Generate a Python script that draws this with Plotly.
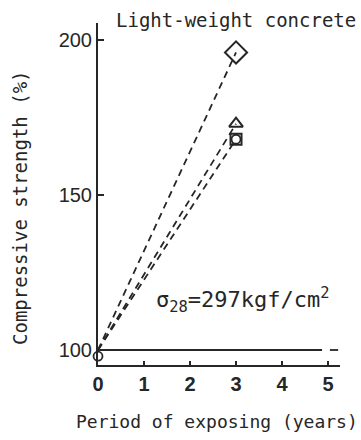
import plotly.graph_objects as go

years = [0, 3]
diamond_vals = [100, 196]
triangle_vals = [100, 173]
square_vals = [100, 168]
circle_year = [0, 3]
circle_vals = [98, 168]
x_ticks = [0, 1, 2, 3, 4, 5]
y_ticks = [100, 150, 200]

INK = "#262626"
MONO = "DejaVu Sans Mono"

W, H = 361, 440
L, R, T, B = 98, 21, 23, 75
PW, PH = W - L - R, H - T - B


def px(xp):
    return (xp - L) / PW


def py(yp):
    return (H - B - yp) / PH


fig = go.Figure()

for vals in (diamond_vals, triangle_vals, square_vals):
    fig.add_trace(go.Scatter(x=years, y=vals, mode="lines",
                             line=dict(color=INK, width=1.8, dash="7px,5px"),
                             showlegend=False, hoverinfo="skip"))

fig.add_trace(go.Scatter(x=[years[-1]], y=[diamond_vals[-1]], mode="markers",
                         marker=dict(symbol="diamond-open", size=17, color=INK, line=dict(width=2)),
                         showlegend=False, cliponaxis=False))
fig.add_trace(go.Scatter(x=[years[-1]], y=[triangle_vals[-1]], mode="markers",
                         marker=dict(symbol="triangle-up-open", size=12, color=INK, line=dict(width=2)),
                         showlegend=False, cliponaxis=False))
fig.add_trace(go.Scatter(x=[years[-1]], y=[square_vals[-1]], mode="markers",
                         marker=dict(symbol="square-open", size=11, color=INK, line=dict(width=2)),
                         showlegend=False, cliponaxis=False))
fig.add_trace(go.Scatter(x=circle_year, y=circle_vals, mode="markers",
                         marker=dict(symbol="circle-open", size=9, color=INK, line=dict(width=1.8)),
                         showlegend=False, cliponaxis=False))

# reference line at 100 %
fig.add_shape(type="line", x0=0, x1=4.87, y0=100, y1=100, line=dict(color=INK, width=1.8))
fig.add_shape(type="line", x0=5.04, x1=5.22, y0=100, y1=100, line=dict(color=INK, width=1.8))

fig.add_annotation(x=1.22, y=116.2, xref="x", yref="y", xanchor="left", yanchor="middle",
                   text="σ<sub>28</sub>=297kgf/cm<sup>2</sup>", showarrow=False,
                   font=dict(family=MONO, size=22, color=INK))

fig.add_annotation(x=px(114), y=py(20), xref="paper", yref="paper", showarrow=False,
                   text="Light-weight concrete", font=dict(family=MONO, size=19, color=INK),
                   xanchor="left", yanchor="middle")

fig.add_annotation(x=px(20), y=py(208), xref="paper", yref="paper", showarrow=False,
                   text="Compressive strength (%)", font=dict(family=MONO, size=19, color=INK),
                   textangle=-90, xanchor="center", yanchor="middle")

fig.add_annotation(x=px(74), y=py(421), xref="paper", yref="paper", showarrow=False,
                   text="Period of exposing (years)", font=dict(family=MONO, size=18, color=INK),
                   xanchor="left", yanchor="middle")

fig.update_layout(
    width=W, height=H,
    margin=dict(l=L, r=R, t=T, b=B),
    paper_bgcolor="white", plot_bgcolor="white",
    xaxis=dict(range=[0, 5.26], tickvals=x_ticks, ticks="inside", ticklen=4, tickwidth=2,
               tickcolor=INK, showline=True, linecolor=INK, linewidth=2, showgrid=False,
               zeroline=False, automargin=False,
               tickfont=dict(family="Liberation Sans", size=20, color=INK, weight="bold")),
    yaxis=dict(range=[95.16, 205.5], tickvals=y_ticks, ticks="inside", ticklen=6, tickwidth=2,
               tickcolor=INK, showline=True, linecolor=INK, linewidth=2, showgrid=False,
               zeroline=False, automargin=False,
               tickfont=dict(family="Liberation Sans", size=20, color=INK)),
)

fig.write_html("out.html", config={"displayModeBar": False},
               post_script="document.body.style.margin='0';")
